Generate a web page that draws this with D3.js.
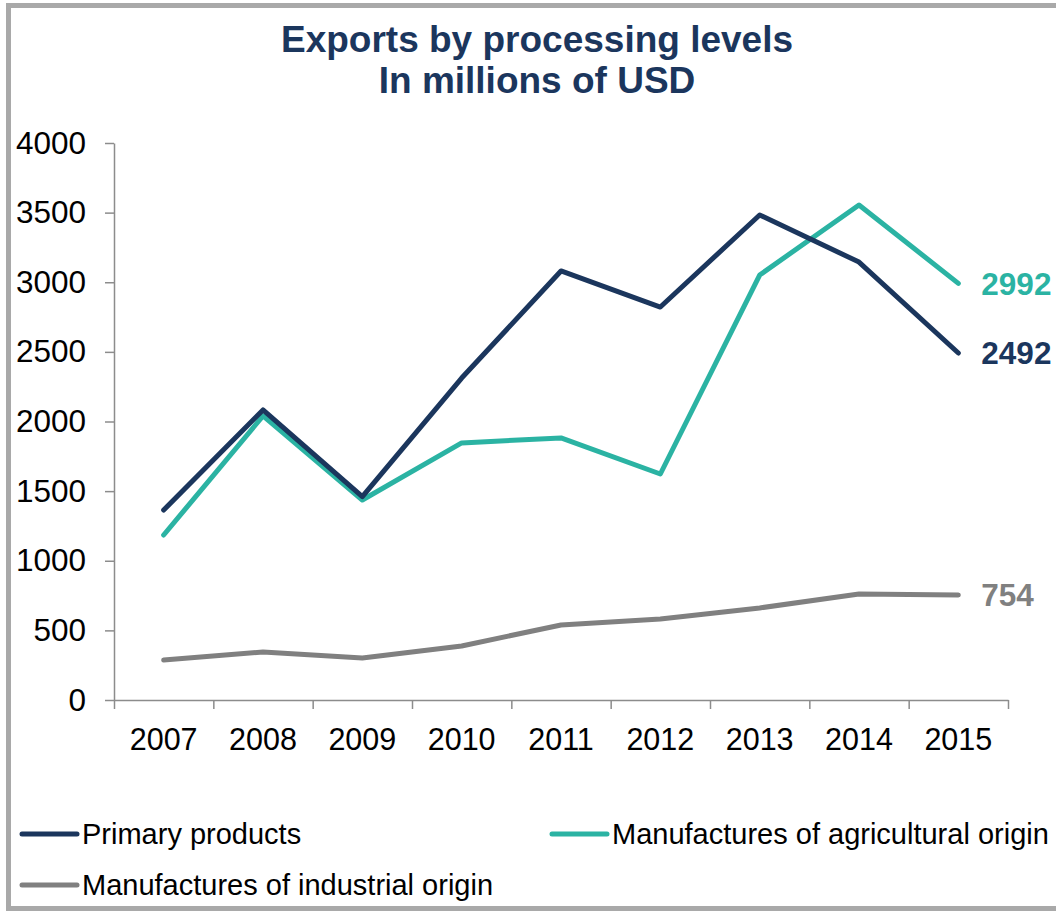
<!DOCTYPE html>
<html>
<head>
<meta charset="utf-8">
<script src="https://cdn.jsdelivr.net/npm/d3@7/dist/d3.min.js"></script>
<style>
  html, body { margin: 0; padding: 0; background: #fff; }
  svg { display: block; font-family: "Liberation Sans", Arial, sans-serif; }
</style>
</head>
<body>
<svg id="chart" width="1056" height="911"></svg>
<script>
// Export values by processing level, millions of USD
const years = ["2007", "2008", "2009", "2010", "2011", "2012", "2013", "2014", "2015"];
const primaryProducts = [1364, 2083, 1460, 2312, 3081, 2822, 3483, 3145, 2492];
const agriculturalManufactures = [1185, 2040, 1436, 1846, 1882, 1623, 3052, 3555, 2992];
const industrialManufactures = [287, 345, 302, 388, 539, 582, 661, 761, 754];
const yTicks = [0, 500, 1000, 1500, 2000, 2500, 3000, 3500, 4000];
const titleLines = ["Exports by processing levels", "In millions of USD"];

const series = [
  { name: "Primary products", values: primaryProducts, color: "#1b365d" },
  { name: "Manufactures of agricultural origin", values: agriculturalManufactures, color: "#2bb3a3" },
  { name: "Manufactures of industrial origin", values: industrialManufactures, color: "#808080" }
];

const svg = d3.select("#chart");
const font = "'Liberation Sans', Arial, sans-serif";

// outer frame
svg.append("rect")
  .attr("x", 8.5).attr("y", 5.5)
  .attr("width", 1100).attr("height", 903)
  .attr("fill", "none")
  .attr("stroke", "#a9a9a9")
  .attr("stroke-width", 5);

// title
svg.append("g").selectAll("text")
  .data(titleLines)
  .join("text")
  .attr("x", 537)
  .attr("y", (d, i) => 52 + i * 41)
  .attr("text-anchor", "middle")
  .attr("font-size", 37)
  .attr("font-weight", "bold")
  .attr("fill", "#1b365d")
  .text(d => d);

const plot = { left: 114, right: 1008, top: 143, bottom: 700 };

const y = d3.scaleLinear().domain([0, 4000]).range([plot.bottom, plot.top]);
const xBand = d3.scaleBand().domain(years).range([plot.left, plot.right]).padding(0);
const xEdge = d3.scaleLinear().domain([0, years.length]).range([plot.left, plot.right]);
const xc = i => xBand(years[i]) + xBand.bandwidth() / 2;

const axisColor = "#8c8c8c";

// y axis
const yAxis = svg.append("g")
  .attr("transform", `translate(${plot.left},0)`)
  .call(d3.axisLeft(y).tickValues(yTicks).tickFormat(d3.format("d")).tickSize(9).tickSizeOuter(0).tickPadding(19));
yAxis.select(".domain").attr("stroke", axisColor).attr("stroke-width", 1.5);
yAxis.selectAll(".tick line").attr("stroke", axisColor).attr("stroke-width", 1.5);
yAxis.selectAll(".tick text").attr("font-size", 31.5).attr("font-family", font).attr("fill", "#000");

// x axis: tick marks sit between categories
const xAxis = svg.append("g")
  .attr("transform", `translate(0,${plot.bottom})`)
  .call(d3.axisBottom(xEdge).tickValues(d3.range(years.length + 1)).tickFormat("").tickSize(9).tickSizeOuter(0));
xAxis.select(".domain").attr("stroke", axisColor).attr("stroke-width", 1.5);
xAxis.selectAll(".tick line").attr("stroke", axisColor).attr("stroke-width", 1.5);

svg.append("g").selectAll("text")
  .data(years)
  .join("text")
  .attr("x", (d, i) => xc(i))
  .attr("y", 750)
  .attr("text-anchor", "middle")
  .attr("font-size", 30.5)
  .attr("fill", "#000")
  .text(d => d);

// lines
const line = d3.line().x((d, i) => xc(i)).y(d => y(d));
const drawOrder = [series[2], series[1], series[0]];
svg.append("g").selectAll("path")
  .data(drawOrder)
  .join("path")
  .attr("d", d => line(d.values))
  .attr("fill", "none")
  .attr("stroke", d => d.color)
  .attr("stroke-width", 5)
  .attr("stroke-linejoin", "round")
  .attr("stroke-linecap", "round");

// end-of-line value labels
const last = years.length - 1;
svg.append("g").selectAll("text")
  .data(series)
  .join("text")
  .attr("x", xc(last) + 23)
  .attr("y", d => y(d.values[last]))
  .attr("dy", "0.36em")
  .attr("font-size", 31.5)
  .attr("font-weight", "bold")
  .attr("fill", d => d.color)
  .text(d => d.values[last]);

// legend
const legendPos = [
  { x: 22, y: 834 },
  { x: 552, y: 834 },
  { x: 22, y: 885 }
];
const legend = svg.append("g").selectAll("g")
  .data(series)
  .join("g")
  .attr("transform", (d, i) => `translate(${legendPos[i].x},${legendPos[i].y})`);
legend.append("line")
  .attr("x1", 0).attr("x2", 55)
  .attr("stroke", d => d.color)
  .attr("stroke-width", 5)
  .attr("stroke-linecap", "round");
legend.append("text")
  .attr("x", 60)
  .attr("dy", "0.36em")
  .attr("font-size", 29)
  .attr("fill", "#000")
  .text(d => d.name);
</script>
</body>
</html>
